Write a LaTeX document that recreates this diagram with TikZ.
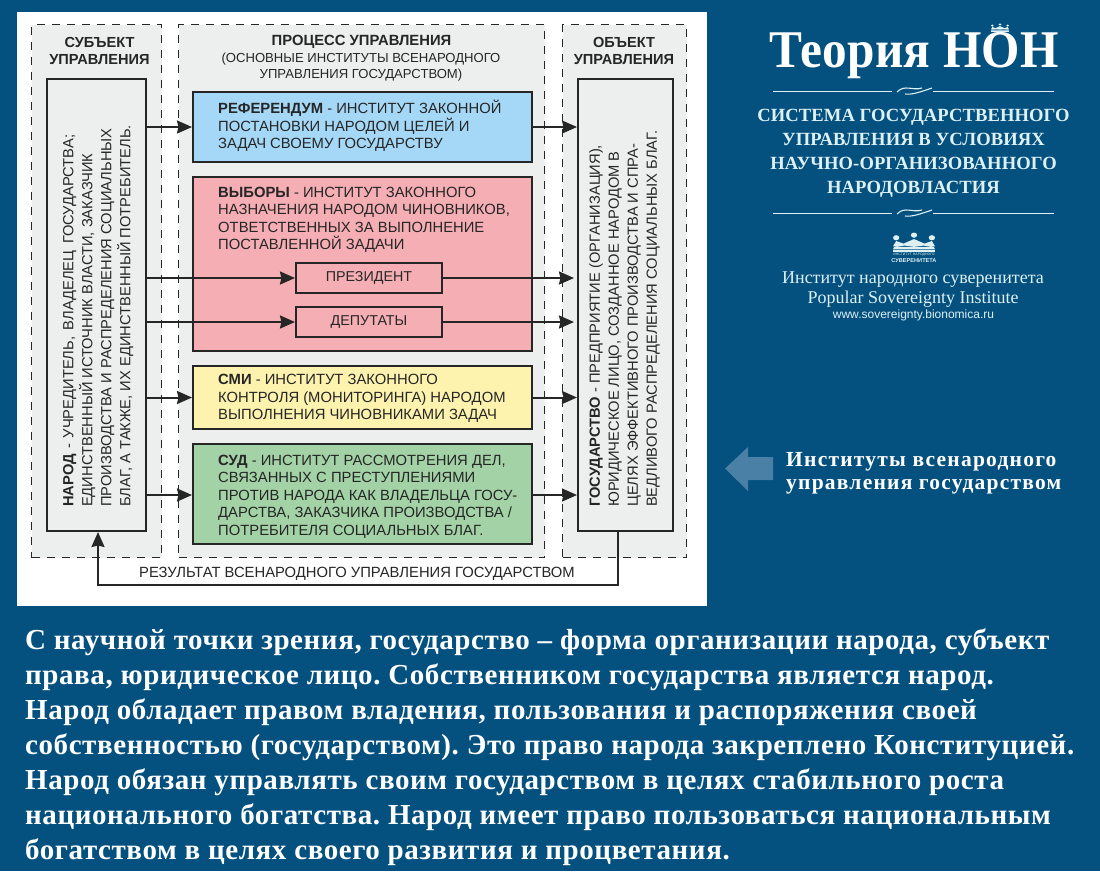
\documentclass[tikz,border=0pt]{standalone}
\usepackage{fontspec}
\setmainfont{Liberation Sans}
\newfontfamily\serifr{Liberation Serif}
\newfontfamily\seriftitle[LetterSpace=0.6]{Liberation Serif Bold}
\newfontfamily\serifsub[LetterSpace=0.4]{Liberation Serif Bold}
\newfontfamily\serifinst[LetterSpace=5.7]{Liberation Serif Bold}
\newfontfamily\serifpara[LetterSpace=2]{Liberation Serif Bold}
\usetikzlibrary{arrows.meta,calc}
\definecolor{bgblue}{HTML}{04507F}
\definecolor{panelgray}{HTML}{EDEEEE}
\definecolor{inkc}{HTML}{262626}
\definecolor{refc}{HTML}{A5D8F7}
\definecolor{vybc}{HTML}{F4AEB4}
\definecolor{smic}{HTML}{FDF3AE}
\definecolor{sudc}{HTML}{A3D2A6}
\definecolor{paleblue}{HTML}{DDF1F5}
\definecolor{arrowblue}{HTML}{4A7FA6}
\tikzset{
  panelbox/.style={anchor=north west,fill=panelgray,draw=inkc,line width=1.4pt,dash pattern=on 8pt off 7pt,inner sep=0pt},
  solidbox/.style={anchor=north west,draw=inkc,line width=2pt,inner sep=0pt},
  arr/.style={draw=inkc,line width=2pt,-{Stealth[length=15pt,width=13pt,inset=1.5pt]}},
  hd/.style={font=\fontsize{14.6}{17}\selectfont\bfseries,text=inkc,align=center,inner sep=0pt},
  sub/.style={font=\fontsize{13.1}{16}\selectfont,text=inkc,align=center,inner sep=0pt},
  body/.style={font=\fontsize{14.8}{17.6}\selectfont,text=inkc,align=left,anchor=north west,inner sep=0pt},
  vert/.style={font=\fontsize{14.7}{19}\selectfont,text=inkc,align=left,anchor=north west,rotate=90,inner sep=0pt},
  pale/.style={text=paleblue,inner sep=0pt},
  sepline/.style={draw=paleblue,line width=0.9pt},
}
\newcommand{\crownmark}[4]{%
  \begin{scope}[shift={(#1,#2)},xscale=#3,yscale=#4]
    \fill[paleblue] (-20,8) -- (-17,0) -- (-10,4) -- (0,-3) -- (10,4) -- (17,0) -- (20,8) -- (16,9) -- (9,7) -- (0,9) -- (-9,7) -- (-16,9) -- cycle;
    \fill[paleblue] (-20,14) rectangle (20,17);
    \fill[paleblue] (-19,9) -- (19,9) -- (20,13) -- (-20,13) -- cycle;
    \fill[paleblue] (-17,-5) ellipse (3 and 4) (0,-9) ellipse (3 and 4) (17,-5) ellipse (3 and 4);
  \end{scope}}
\begin{document}
\begin{tikzpicture}[x=1pt,y=-1pt]
\frenchspacing
\useasboundingbox (0,0) rectangle (1100,871);
\fill[bgblue] (0,0) rectangle (1100,871);
\node[anchor=north west,fill=white,minimum width=690pt,minimum height=594pt,inner sep=0pt] (sheet) at (17,12) {};
% dashed panels
\node[panelbox,minimum width=130pt,minimum height=533pt] (subj) at (31,24) {};
\node[panelbox,minimum width=366pt,minimum height=533pt] (proc) at (178,24) {};
\node[panelbox,minimum width=124pt,minimum height=533pt] (obj) at (562,24) {};
% headings
\node[hd] (subjh) at (99.5,50.5) {СУБЪЕКТ\\УПРАВЛЕНИЯ};
\node[hd] (objh) at (624,50.5) {ОБЪЕКТ\\УПРАВЛЕНИЯ};
\node[hd,font=\fontsize{14.8}{17}\selectfont\bfseries] (proch) at (361.5,42) {ПРОЦЕСС УПРАВЛЕНИЯ};
\node[sub] (procs) at (361,67.5) {(ОСНОВНЫЕ ИНСТИТУТЫ ВСЕНАРОДНОГО\\УПРАВЛЕНИЯ ГОСУДАРСТВОМ)};
% tall boxes
\node[solidbox,fill=panelgray,minimum width=99pt,minimum height=452pt] (narod) at (46,78) {};
\node[solidbox,fill=panelgray,minimum width=95pt,minimum height=452pt] (gos) at (577,78) {};
\node[vert] (narodt) at (63,507) {\textbf{НАРОД} \hspace{1.5pt}- \hspace{1.5pt}УЧРЕДИТЕЛЬ, \hspace{2.5pt}ВЛАДЕЛЕЦ \hspace{2.5pt}ГОСУДАРСТВА;\\ЕДИНСТВЕННЫЙ ИСТОЧНИК ВЛАСТИ, ЗАКАЗЧИК\\ПРОИЗВОДСТВА И РАСПРЕДЕЛЕНИЯ СОЦИАЛЬНЫХ\\БЛАГ, А ТАКЖЕ, ИХ ЕДИНСТВЕННЫЙ ПОТРЕБИТЕЛЬ.};
\node[vert] (gost) at (589,507) {\textbf{ГОСУДАРСТВО} - ПРЕДПРИЯТИЕ (ОРГАНИЗАЦИЯ),\\ЮРИДИЧЕСКОЕ ЛИЦО, СОЗДАННОЕ НАРОДОМ В\\ЦЕЛЯХ ЭФФЕКТИВНОГО ПРОИЗВОДСТВА И СПРА-\\ВЕДЛИВОГО РАСПРЕДЕЛЕНИЯ СОЦИАЛЬНЫХ БЛАГ.};
% institutions
\node[solidbox,fill=refc,minimum width=339pt,minimum height=70pt] (ref) at (192,91) {};
\node[solidbox,fill=vybc,minimum width=339pt,minimum height=174pt] (vyb) at (192,176) {};
\node[solidbox,fill=smic,minimum width=339pt,minimum height=63pt] (smi) at (192,365) {};
\node[solidbox,fill=sudc,minimum width=339pt,minimum height=100pt] (sud) at (192,443) {};
\node[solidbox,fill=vybc,minimum width=146pt,minimum height=30pt] (pres) at (295,262) {};
\node[solidbox,fill=vybc,minimum width=146pt,minimum height=30pt] (dep) at (295,306) {};
\node[font=\fontsize{14.3}{17}\selectfont,text=inkc,inner sep=0pt] (prest) at (pres.center) {ПРЕЗИДЕНТ};
\node[font=\fontsize{14.3}{17}\selectfont,text=inkc,inner sep=0pt] (dept) at (dep.center) {ДЕПУТАТЫ};
\node[body] (reft) at (218,100) {\textbf{РЕФЕРЕНДУМ} - ИНСТИТУТ ЗАКОННОЙ\\ПОСТАНОВКИ НАРОДОМ ЦЕЛЕЙ И\\ЗАДАЧ СВОЕМУ ГОСУДАРСТВУ};
\node[body] (vybt) at (218,186.5) {\textbf{ВЫБОРЫ} - ИНСТИТУТ ЗАКОННОГО\\НАЗНАЧЕНИЯ НАРОДОМ ЧИНОВНИКОВ,\\ОТВЕТСТВЕННЫХ ЗА ВЫПОЛНЕНИЕ\\ПОСТАВЛЕННОЙ ЗАДАЧИ};
\node[body] (smit) at (218,374) {\textbf{СМИ} - ИНСТИТУТ ЗАКОННОГО\\КОНТРОЛЯ (МОНИТОРИНГА) НАРОДОМ\\ВЫПОЛНЕНИЯ ЧИНОВНИКАМИ ЗАДАЧ};
\node[body] (sudt) at (218,454.5) {\textbf{СУД} - ИНСТИТУТ РАССМОТРЕНИЯ ДЕЛ,\\СВЯЗАННЫХ С ПРЕСТУПЛЕНИЯМИ\\ПРОТИВ НАРОДА КАК ВЛАДЕЛЬЦА ГОСУ-\\ДАРСТВА, ЗАКАЗЧИКА ПРОИЗВОДСТВА /\\ПОТРЕБИТЕЛЯ СОЦИАЛЬНЫХ БЛАГ.};
% connectors
\draw[arr] (narod.east |- ref.west) -- (ref.west);
\draw[arr] (ref.east) -- (gos.west |- ref.east);
\draw[arr] (narod.east |- pres.west) -- (pres.west);
\draw[arr,shorten >=3pt] (pres.east) -- (gos.west |- pres.east);
\draw[arr] (narod.east |- dep.west) -- (dep.west);
\draw[arr,shorten >=3pt] (dep.east) -- (gos.west |- dep.east);
\draw[arr] (narod.east |- smi.west) -- (smi.west);
\draw[arr] (smi.east) -- (gos.west |- smi.east);
\coordinate (sudlevelL) at (192,495);
\coordinate (sudlevelR) at (531,495);
\draw[arr] (narod.east |- sudlevelL) -- (sudlevelL);
\draw[arr] (sudlevelR) -- (gos.west |- sudlevelR);
\coordinate (fbR) at (618,585);
\coordinate (fbL) at (98,585);
\draw[arr] (gos.south -| fbR) -- (fbR) -- (fbL) -- (narod.south -| fbL);
\node[font=\fontsize{14.8}{17}\selectfont,text=inkc,inner sep=0pt] (result) at (357,574) {РЕЗУЛЬТАТ ВСЕНАРОДНОГО УПРАВЛЕНИЯ ГОСУДАРСТВОМ};
% right column
\node[pale,text=white,font=\fontsize{53}{60}\selectfont\seriftitle] (title) at (914,56) {\scalebox{0.93}[1]{Теория НОН}};
\crownmark{1000}{27}{0.45}{0.28}
\draw[sepline] (773,91) -- (892,91);
\draw[sepline] (933,91) -- (1054,91);
\draw[paleblue,line width=1.1pt] (897,92) .. controls (905,84) and (912,91) .. (922,88) (905,94) .. controls (912,95) and (920,92) .. (932,88);
\node[pale,align=center,font=\fontsize{18.6}{24}\selectfont\serifsub] (subt) at (913.5,153) {СИСТЕМА ГОСУДАРСТВЕННОГО\\УПРАВЛЕНИЯ В УСЛОВИЯХ\\НАУЧНО-ОРГАНИЗОВАННОГО\\НАРОДОВЛАСТИЯ};
\draw[sepline] (773,213) -- (892,213);
\draw[sepline] (933,213) -- (1054,213);
\draw[paleblue,line width=1.1pt] (897,214) .. controls (905,206) and (912,213) .. (922,210) (905,216) .. controls (912,217) and (920,214) .. (932,210);
\crownmark{914}{241}{1.05}{0.65}
\node[pale,font=\fontsize{3.5}{4}\selectfont] (logo1) at (914,255) {ИНСТИТУТ НАРОДНОГО};
\node[pale,font=\fontsize{5.6}{6}\selectfont\bfseries] (logo2) at (914,260.5) {СУВЕРЕНИТЕТА};
\node[pale,font=\fontsize{18}{20}\selectfont\serifr] (inst) at (913,279.5) {Институт народного суверенитета};
\node[pale,font=\fontsize{18}{20}\selectfont\serifr] (psi) at (913,299.5) {Popular Sovereignty Institute};
\node[pale,font=\fontsize{12}{14}\selectfont] (www) at (913.5,315) {www.sovereignty.bionomica.ru};
\fill[arrowblue] (725,468.5) -- (748,447) -- (748,457) -- (773,457) -- (773,480) -- (748,480) -- (748,491) -- cycle;
\node[pale,text=white,align=left,anchor=west,font=\fontsize{21.5}{23.5}\selectfont\serifinst] (inst2) at (786,473.5) {Институты всенародного\\управления государством};
\node[inner sep=0pt,text=white,align=left,anchor=north west,font=\fontsize{29}{35}\selectfont\serifpara] (para) at (25,629) {С научной точки зрения, государство – форма организации народа, субъект\\права, юридическое лицо. Собственником государства является народ.\\Народ обладает правом владения, пользования и распоряжения своей\\собственностью (государством). Это право народа закреплено Конституцией.\\Народ обязан управлять своим государством в целях стабильного роста\\национального богатства. Народ имеет право пользоваться национальным\\богатством в целях своего развития и процветания.};
\end{tikzpicture}
\end{document}
